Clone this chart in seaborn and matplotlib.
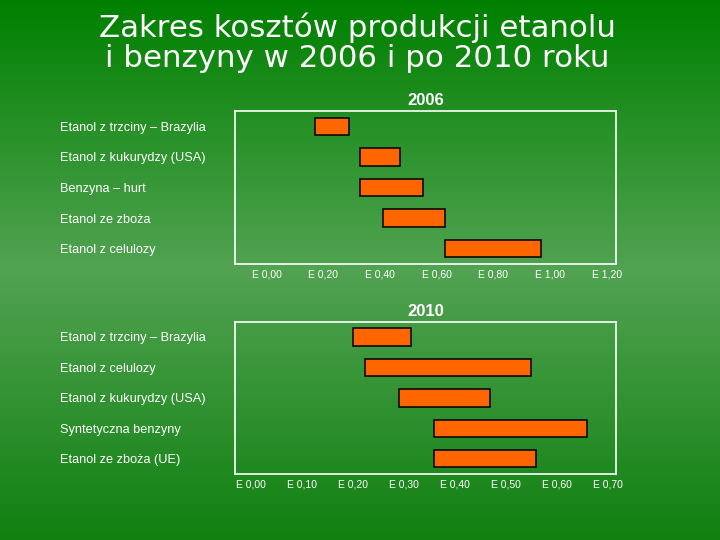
import numpy as np
import pandas as pd
import matplotlib
matplotlib.use("Agg")
import matplotlib.pyplot as plt
import seaborn as sns

# ---- data ----
cats_2006 = ["Etanol z trzciny – Brazylia", "Etanol z kukurydzy (USA)", "Benzyna – hurt",
             "Etanol ze zboża", "Etanol z celulozy"]
start_2006 = [0.17, 0.33, 0.33, 0.41, 0.63]
end_2006 = [0.29, 0.47, 0.55, 0.63, 0.97]
ticks_2006 = [0.0, 0.2, 0.4, 0.6, 0.8, 1.0, 1.2]
ticklabels_2006 = ["E 0,00", "E 0,20", "E 0,40", "E 0,60", "E 0,80", "E 1,00", "E 1,20"]

cats_2010 = ["Etanol z trzciny – Brazylia", "Etanol z celulozy", "Etanol z kukurydzy (USA)",
             "Syntetyczna benzyny", "Etanol ze zboża (UE)"]
start_2010 = [0.20, 0.225, 0.29, 0.36, 0.36]
end_2010 = [0.315, 0.55, 0.47, 0.66, 0.56]
ticks_2010 = [0.0, 0.1, 0.2, 0.3, 0.4, 0.5, 0.6, 0.7]
ticklabels_2010 = ["E 0,00", "E 0,10", "E 0,20", "E 0,30", "E 0,40", "E 0,50", "E 0,60", "E 0,70"]

title_text = "Zakres kosztów produkcji etanolu\ni benzyny w 2006 i po 2010 roku"

sns.set_theme(style="white")
plt.rcParams["font.family"] = ["Liberation Sans", "DejaVu Sans"]

W, H = 720, 540
fig = plt.figure(figsize=(7.2, 5.4), dpi=100)

# background gradient
bg = fig.add_axes([0, 0, 1, 1], zorder=-10)
top = np.array([0, 128, 0]) / 255
mid = np.array([82, 163, 82]) / 255
bot = np.array([16, 128, 16]) / 255
n = 540
t = np.linspace(0, 1, n)
grad = np.zeros((n, 1, 3))
for i, v in enumerate(t):
    if v < 0.5:
        c = top + (mid - top) * (v / 0.5)
    else:
        c = mid + (bot - mid) * ((v - 0.5) / 0.5)
    grad[i, 0] = c
bg.imshow(grad, aspect="auto", extent=[0, 1, 0, 1])
bg.axis("off")

fig.text(357 / W, 1 - 43 / H, title_text, ha="center", va="center", color="white",
         fontsize=22.2, family=["DejaVu Sans"], linespacing=1.04)


def panel(rect, cats, starts, ends, ticks, ticklabels, xlim, year):
    ax = fig.add_axes(rect)
    df = pd.DataFrame({"cat": cats, "start": starts, "end": ends})
    df["width"] = df["end"] - df["start"]
    sns.barplot(data=df, x="width", y="cat", orient="h", order=cats, color="#FF6600",
                saturation=1, width=0.57, edgecolor="black", linewidth=1.1,
                errorbar=None, ax=ax)
    for p, s in zip(ax.patches, df["start"]):
        p.set_x(s)
    ax.set_facecolor("none")
    ax.set_xlim(*xlim)
    ax.set_ylim(len(cats) - 0.5, -0.5)
    ax.set_xticks(ticks)
    ax.set_xticklabels(ticklabels, color="white", fontsize=7.5)
    ax.tick_params(axis="x", length=0, pad=4)
    ax.tick_params(axis="y", length=0, pad=126)
    for lbl in ax.get_yticklabels():
        lbl.set_ha("left")
        lbl.set_color("white")
        lbl.set_fontsize(9.2)
    ax.set_xlabel("")
    ax.set_ylabel("")
    for s in ax.spines.values():
        s.set_visible(True)
        s.set_color("white")
        s.set_linewidth(1.2)
    ax.set_title(year, color="white", fontsize=12, fontweight="bold", pad=4)
    return ax


panel([235 / W, 1 - 264 / H, 380.7 / W, 153 / H], cats_2006, start_2006, end_2006,
      ticks_2006, ticklabels_2006, (-0.112, 1.232), "2006")
panel([235 / W, 1 - 474 / H, 380.7 / W, 152.3 / H], cats_2010, start_2010, end_2010,
      ticks_2010, ticklabels_2010, (-0.031, 0.716), "2010")

fig.savefig("out.png", dpi=100)
